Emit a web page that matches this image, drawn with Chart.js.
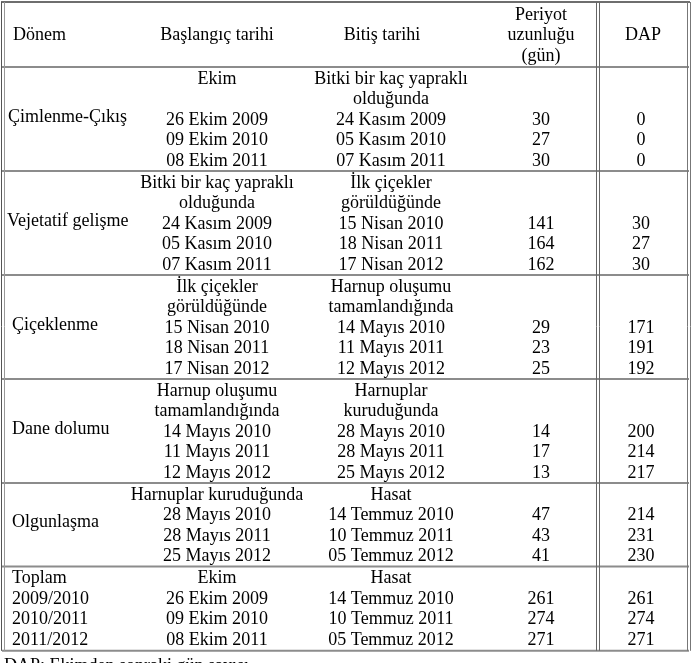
<!DOCTYPE html>
<html><head><meta charset="utf-8">
<script src="https://cdn.jsdelivr.net/npm/chart.js@4.4.0/dist/chart.umd.min.js"></script>
<style>html,body{margin:0;padding:0;background:#fff}canvas{display:block}</style>
</head><body>
<canvas id="c" width="692" height="663"></canvas>
<script>
// ---- DATA ----
const headerStage = "Dönem";
const headerStart = "Başlangıç tarihi";
const headerEnd = "Bitiş tarihi";
const headerPeriod = ["Periyot", "uzunluğu", "(gün)"];
const headerDap = "DAP";

const stages = ["Çimlenme-Çıkış", "Vejetatif gelişme", "Çiçeklenme", "Dane dolumu", "Olgunlaşma"];
const startEvents = [["Ekim"], ["Bitki bir kaç yapraklı", "olduğunda"], ["İlk çiçekler", "görüldüğünde"], ["Harnup oluşumu", "tamamlandığında"], ["Harnuplar kuruduğunda"]];
const endEvents = [["Bitki bir kaç yapraklı", "olduğunda"], ["İlk çiçekler", "görüldüğünde"], ["Harnup oluşumu", "tamamlandığında"], ["Harnuplar", "kuruduğunda"], ["Hasat"]];
const startDates = [
  ["26 Ekim 2009", "09 Ekim 2010", "08 Ekim 2011"],
  ["24 Kasım 2009", "05 Kasım 2010", "07 Kasım 2011"],
  ["15 Nisan 2010", "18 Nisan 2011", "17 Nisan 2012"],
  ["14 Mayıs 2010", "11 Mayıs 2011", "12 Mayıs 2012"],
  ["28 Mayıs 2010", "28 Mayıs 2011", "25 Mayıs 2012"]
];
const endDates = [
  ["24 Kasım 2009", "05 Kasım 2010", "07 Kasım 2011"],
  ["15 Nisan 2010", "18 Nisan 2011", "17 Nisan 2012"],
  ["14 Mayıs 2010", "11 Mayıs 2011", "12 Mayıs 2012"],
  ["28 Mayıs 2010", "28 Mayıs 2011", "25 Mayıs 2012"],
  ["14 Temmuz 2010", "10 Temmuz 2011", "05 Temmuz 2012"]
];
const periods = [[30, 27, 30], [141, 164, 162], [29, 23, 25], [14, 17, 13], [47, 43, 41]];
const dapValues = [[0, 0, 0], [30, 27, 30], [171, 191, 192], [200, 214, 217], [214, 231, 230]];

const totalLabel = "Toplam";
const seasons = ["2009/2010", "2010/2011", "2011/2012"];
const totalStartEvent = "Ekim";
const totalEndEvent = "Hasat";
const totalStartDates = ["26 Ekim 2009", "09 Ekim 2010", "08 Ekim 2011"];
const totalEndDates = ["14 Temmuz 2010", "10 Temmuz 2011", "05 Temmuz 2012"];
const totalPeriods = [261, 274, 271];
const totalDap = [261, 274, 271];
const footnote = "DAP: Ekimden sonraki gün sayısı";

// ---- LAYOUT / STYLE ----
const L = {
  font: '18px "Liberation Serif", "Times New Roman", serif',
  line: 20.6, firstBase: 16.5,
  top: 2, headerBottom: 67,
  xLeft: 2, xDap: 598, xRight: 689,
  cStart: 217, cEnd: 391, cEndHead: 382, cPeriod: 541, cDap: 641, cDapHead: 643,
  labelIndent: [8, 7, 12, 12, 12], totalIndent: 12
};

const tablePlugin = {
  id: 'tableDraw',
  afterDraw(chart) {
    const ctx = chart.ctx, xs = chart.scales.x, ys = chart.scales.y;
    const X = v => xs.getPixelForValue(v), Y = v => ys.getPixelForValue(v);
    ctx.save();
    ctx.font = L.font; ctx.fillStyle = '#000'; ctx.textBaseline = 'alphabetic';
    const txt = (s, x, y, align) => { ctx.textAlign = align || 'center'; ctx.fillText(String(s), X(x), Y(y)); };
    const hline = (y) => {
      ctx.strokeStyle = '#8c8c8c'; ctx.lineWidth = 2;
      ctx.beginPath(); ctx.moveTo(X(L.xLeft), Y(y)); ctx.lineTo(X(L.xRight), Y(y)); ctx.stroke();
    };
    // header
    txt(headerStage, 13, 40, 'left');
    txt(headerStart, L.cStart, 40);
    txt(headerEnd, L.cEndHead, 40);
    headerPeriod.forEach((s, i) => txt(s, L.cPeriod, 19.5 + i * L.line));
    txt(headerDap, L.cDapHead, 40);
    hline(L.headerBottom);
    let top = L.headerBottom;
    const sections = stages.length;
    for (let i = 0; i < sections; i++) {
      const ev = Math.max(startEvents[i].length, endEvents[i].length);
      const n = ev + startDates[i].length;
      const bottom = top + n * L.line + 1;
      const base = r => top + L.firstBase + r * L.line;
      startEvents[i].forEach((s, j) => txt(s, L.cStart, base(j)));
      endEvents[i].forEach((s, j) => txt(s, L.cEnd, base(j)));
      startDates[i].forEach((s, k) => {
        txt(s, L.cStart, base(ev + k));
        txt(endDates[i][k], L.cEnd, base(ev + k));
        txt(periods[i][k], L.cPeriod, base(ev + k));
        txt(dapValues[i][k], L.cDap, base(ev + k));
      });
      ctx.textBaseline = 'middle';
      txt(stages[i], L.labelIndent[i], (top + bottom) / 2 - 2, 'left');
      ctx.textBaseline = 'alphabetic';
      hline(bottom);
      top = bottom;
    }
    // totals
    {
      const n = 1 + seasons.length;
      const bottom = top + n * L.line + 2;
      const base = r => top + L.firstBase + r * L.line;
      txt(totalLabel, L.totalIndent, base(0), 'left');
      txt(totalStartEvent, L.cStart, base(0));
      txt(totalEndEvent, L.cEnd, base(0));
      seasons.forEach((s, k) => {
        txt(s, L.totalIndent, base(1 + k), 'left');
        txt(totalStartDates[k], L.cStart, base(1 + k));
        txt(totalEndDates[k], L.cEnd, base(1 + k));
        txt(totalPeriods[k], L.cPeriod, base(1 + k));
        txt(totalDap[k], L.cDap, base(1 + k));
      });
      hline(bottom);
      // outer borders
      ctx.strokeStyle = '#6e6e6e'; ctx.lineWidth = 2;
      ctx.beginPath(); ctx.moveTo(X(L.xLeft - 1), Y(L.top)); ctx.lineTo(X(L.xRight + 1), Y(L.top)); ctx.stroke();
      ctx.lineWidth = 1;
      [[L.xLeft - 0.5, '#555'], [L.xLeft + 2.5, '#999'], [L.xDap - 1.5, '#666'], [L.xDap + 1.5, '#666'], [L.xRight - 1.5, '#777'], [L.xRight + 1.5, '#777']].forEach(([x, c]) => {
        ctx.strokeStyle = c;
        ctx.beginPath(); ctx.moveTo(X(x), Y(L.top)); ctx.lineTo(X(x), Y(bottom)); ctx.stroke();
      });
      txt(footnote, 4, bottom + 20, 'left');
    }
    ctx.restore();
  }
};

new Chart(document.getElementById('c'), {
  type: 'scatter',
  data: { datasets: [{ data: [], pointRadius: 0 }] },
  options: {
    responsive: false, animation: false, devicePixelRatio: 1,
    layout: { padding: 0 },
    plugins: { legend: { display: false }, tooltip: { enabled: false } },
    scales: {
      x: { type: 'linear', min: 0, max: 692, display: false },
      y: { type: 'linear', min: 0, max: 663, reverse: true, display: false }
    }
  },
  plugins: [tablePlugin]
});
</script>
</body></html>
